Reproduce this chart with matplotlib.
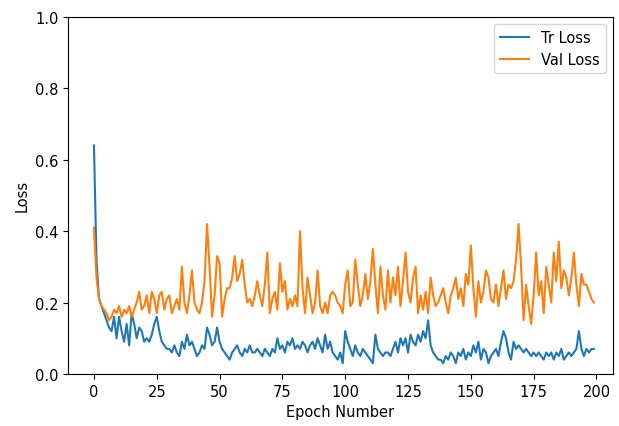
import matplotlib.pyplot as plt
import numpy as np

# per-epoch losses
tr_loss = [
    0.64, 0.32, 0.21, 0.19, 0.17, 0.15, 0.13, 0.12, 0.16, 0.10,
    0.16, 0.12, 0.09, 0.14, 0.08, 0.17, 0.14, 0.10, 0.13, 0.12,
    0.09, 0.10, 0.09, 0.11, 0.14, 0.16, 0.12, 0.09, 0.08, 0.07,
    0.07, 0.06, 0.08, 0.06, 0.05, 0.09, 0.07, 0.11, 0.08, 0.09,
    0.07, 0.05, 0.06, 0.08, 0.07, 0.13, 0.11, 0.08, 0.09, 0.13,
    0.09, 0.07, 0.06, 0.05, 0.04, 0.06, 0.07, 0.08, 0.06, 0.05,
    0.07, 0.06, 0.08, 0.06, 0.06, 0.07, 0.06, 0.05, 0.07, 0.06,
    0.05, 0.07, 0.06, 0.10, 0.07, 0.08, 0.06, 0.09, 0.08, 0.10,
    0.07, 0.08, 0.07, 0.09, 0.08, 0.06, 0.08, 0.09, 0.07, 0.10,
    0.08, 0.06, 0.11, 0.07, 0.09, 0.06, 0.05, 0.04, 0.06, 0.03,
    0.12, 0.09, 0.07, 0.05, 0.08, 0.06, 0.05, 0.07, 0.06, 0.05,
    0.04, 0.03, 0.11, 0.07, 0.06, 0.05, 0.06, 0.06, 0.05, 0.07,
    0.09, 0.06, 0.10, 0.08, 0.10, 0.06, 0.11, 0.09, 0.08, 0.11,
    0.09, 0.12, 0.10, 0.15, 0.08, 0.06, 0.05, 0.04, 0.04, 0.03,
    0.05, 0.04, 0.06, 0.05, 0.03, 0.06, 0.05, 0.07, 0.04, 0.06,
    0.05, 0.08, 0.06, 0.09, 0.04, 0.07, 0.06, 0.03, 0.05, 0.06,
    0.07, 0.05, 0.09, 0.12, 0.10, 0.06, 0.04, 0.09, 0.07, 0.08,
    0.07, 0.06, 0.07, 0.06, 0.05, 0.06, 0.05, 0.06, 0.05, 0.04,
    0.06, 0.05, 0.06, 0.04, 0.06, 0.05, 0.07, 0.04, 0.05, 0.06,
    0.05, 0.06, 0.07, 0.12, 0.07, 0.05, 0.07, 0.06, 0.07, 0.07,
]

val_loss = [
    0.41, 0.27, 0.21, 0.19, 0.18, 0.17, 0.15, 0.16, 0.18, 0.17,
    0.19, 0.16, 0.18, 0.17, 0.19, 0.16, 0.18, 0.20, 0.23, 0.18,
    0.19, 0.22, 0.17, 0.23, 0.21, 0.17, 0.22, 0.23, 0.18, 0.21,
    0.22, 0.17, 0.19, 0.21, 0.18, 0.30, 0.20, 0.17, 0.22, 0.29,
    0.20, 0.18, 0.17, 0.20, 0.26, 0.42, 0.30, 0.16, 0.22, 0.33,
    0.31, 0.16, 0.21, 0.24, 0.24, 0.27, 0.33, 0.26, 0.28, 0.32,
    0.25, 0.20, 0.21, 0.19, 0.22, 0.26, 0.22, 0.19, 0.25, 0.34,
    0.17, 0.21, 0.23, 0.18, 0.31, 0.23, 0.26, 0.18, 0.21, 0.19,
    0.22, 0.19, 0.40, 0.24, 0.17, 0.27, 0.22, 0.17, 0.20, 0.29,
    0.19, 0.17, 0.20, 0.17, 0.22, 0.23, 0.22, 0.20, 0.19, 0.17,
    0.25, 0.29, 0.19, 0.20, 0.32, 0.25, 0.19, 0.22, 0.28, 0.21,
    0.26, 0.35, 0.25, 0.17, 0.30, 0.22, 0.18, 0.29, 0.20, 0.27,
    0.22, 0.30, 0.19, 0.26, 0.34, 0.23, 0.20, 0.27, 0.30, 0.17,
    0.22, 0.18, 0.23, 0.17, 0.27, 0.22, 0.19, 0.20, 0.22, 0.24,
    0.20, 0.17, 0.22, 0.24, 0.27, 0.21, 0.24, 0.19, 0.28, 0.25,
    0.36, 0.24, 0.16, 0.26, 0.20, 0.23, 0.29, 0.27, 0.21, 0.20,
    0.25, 0.19, 0.24, 0.29, 0.21, 0.25, 0.24, 0.26, 0.32, 0.42,
    0.30, 0.15, 0.25, 0.19, 0.14, 0.22, 0.34, 0.22, 0.26, 0.17,
    0.30, 0.25, 0.20, 0.34, 0.26, 0.37, 0.24, 0.29, 0.27, 0.22,
    0.27, 0.34, 0.25, 0.19, 0.28, 0.25, 0.25, 0.23, 0.21, 0.20,
]

epochs = np.arange(len(tr_loss))

plt.rcParams["font.size"] = 10.5

fig = plt.figure(figsize=(6.19, 4.27), dpi=100)
ax = fig.add_axes([0.11, 0.122, 0.88, 0.836])
ax.plot(epochs, tr_loss, label="Tr Loss")
ax.plot(epochs, val_loss, label="Val Loss")
ax.set_xlim(-10.3, 206.5)
ax.set_ylim(0, 1.0)
ax.set_xlabel("Epoch Number")
ax.set_ylabel("Loss")
ax.legend(loc="upper right")

plt.savefig("out.png", dpi=100)
